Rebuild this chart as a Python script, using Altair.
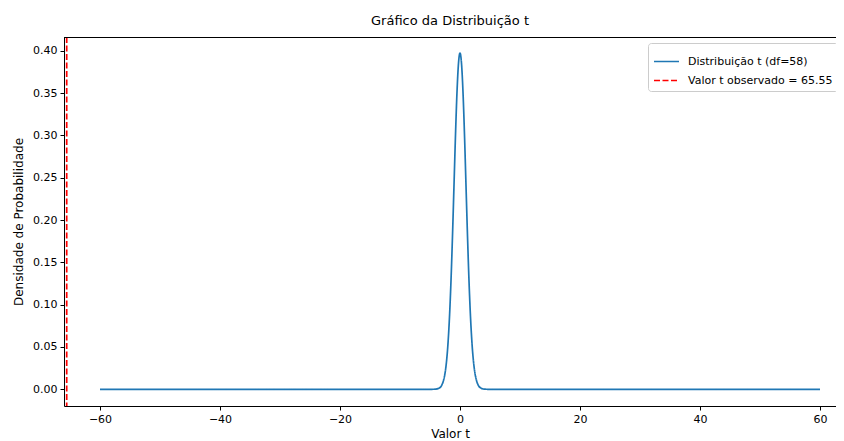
import altair as alt
import pandas as pd

# values (t distribution, df=58)
t_x = [-60, -20, -6, -5, -4.5, -4, -3.5, -3, -2.75, -2.5, -2.25, -2, -1.75, -1.5,
       -1.25, -1, -0.75, -0.5, -0.25, 0, 0.25, 0.5, 0.75, 1, 1.25, 1.5, 1.75, 2,
       2.25, 2.5, 2.75, 3, 3.5, 4, 4.5, 5, 6, 20, 60]
t_y = [0, 0, 0, 0.00001, 0.00006, 0.0003, 0.0014, 0.0055, 0.0104, 0.0188, 0.0327,
       0.0543, 0.0857, 0.1283, 0.1813, 0.2409, 0.3005, 0.3511, 0.3851, 0.3972,
       0.3851, 0.3511, 0.3005, 0.2409, 0.1813, 0.1283, 0.0857, 0.0543, 0.0327,
       0.0188, 0.0104, 0.0055, 0.0014, 0.0003, 0.00006, 0.00001, 0, 0, 0]
t_obs = -65.55
labels = ["Distribuição t (df=58)", "Valor t observado = 65.55"]
x_ticks = [-60, -40, -20, 0, 20, 40, 60]
y_ticks = [0.0, 0.05, 0.10, 0.15, 0.20, 0.25, 0.30, 0.35, 0.40]

W, H = 772, 369
FONT = "DejaVu Sans"

curve = pd.DataFrame({"x": t_x, "y": t_y, "serie": labels[0]})
obs = pd.DataFrame({"x": [t_obs], "serie": [labels[1]]})

xscale = alt.Scale(domain=[-66, 62.667], nice=False, zero=False)
yscale = alt.Scale(domain=[-0.0197, 0.4162], nice=False, zero=False)
color = alt.Color("serie:N", scale=alt.Scale(domain=labels, range=["#1f77b4", "#ff0000"]),
                  legend=alt.Legend(title=None))
dash = alt.StrokeDash("serie:N", scale=alt.Scale(domain=labels, range=[[1, 0], [6, 2.5]]),
                      legend=alt.Legend(title=None))

line = alt.Chart(curve).mark_line(strokeWidth=1.7, interpolate="monotone").encode(
    x=alt.X("x:Q", scale=xscale, title="Valor t",
            axis=alt.Axis(values=x_ticks, format="d",
                          labelExpr="replace(datum.label, '-', '−')")),
    y=alt.Y("y:Q", scale=yscale, title="Densidade de Probabilidade",
            axis=alt.Axis(values=y_ticks, format=".2f")),
    color=color,
    strokeDash=dash,
)

rule = alt.Chart(obs).mark_rule(strokeWidth=1.7).encode(
    x=alt.X("x:Q", scale=xscale),
    color=color,
    strokeDash=dash,
)

top = alt.Chart(obs).mark_rule(color="black", strokeWidth=1).encode(
    x=alt.value(0), x2=alt.value(W), y=alt.value(0.5)
)

chart = alt.layer(line, rule, top).properties(
    width=W, height=H,
    title=alt.Title("Gráfico da Distribuição t", fontSize=13, font=FONT,
                    fontWeight="normal", color="black", offset=8),
    autosize=alt.AutoSizeParams(type="none"),
    padding={"left": 56, "top": 29, "right": 0, "bottom": 35},
).configure_view(stroke=None).configure_axis(
    grid=False, domainColor="black", domainWidth=1, tickColor="black", tickSize=4,
    labelFont=FONT, labelFontSize=11, labelColor="black", labelPadding=3,
    titleFont=FONT, titleFontSize=12, titleColor="black", titleFontWeight="normal",
).configure_axisX(titlePadding=4).configure_axisY(titlePadding=7).configure_legend(
    orient="none", legendX=584, legendY=6, fillColor="white", strokeColor="#cccccc",
    cornerRadius=3, padding=5, labelFont=FONT, labelFontSize=11, labelColor="black",
    symbolType="stroke", symbolSize=625, symbolStrokeWidth=1.7, labelOffset=8,
    rowPadding=-7,
)

chart.save("out.html", embed_options={"renderer": "svg", "actions": False})
